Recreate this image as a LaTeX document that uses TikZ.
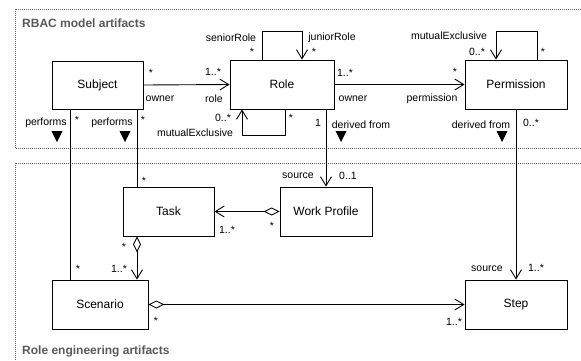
\documentclass[tikz,border=0pt]{standalone}
\usepackage{fontspec}
\setmainfont{Liberation Sans}
\usetikzlibrary{arrows.meta,calc}
\begin{document}
\begin{tikzpicture}[x=1pt,y=-1pt,
  box/.style={draw,line width=0.9pt,inner sep=0pt,font=\fontsize{12}{14}\selectfont},
  lbl/.style={inner sep=0pt,font=\fontsize{10.5}{12}\selectfont},
  title/.style={inner sep=0pt,anchor=west,text=black!65,font=\fontsize{12}{14}\selectfont\bfseries},
  frame/.style={draw=black!60,line width=0.9pt,dash pattern=on 0.9pt off 1.1pt},
  conn/.style={line width=0.9pt},
  assoc/.style={conn,-{Straight Barb[length=9pt,width=11pt,line width=0.9pt]}},
  aggr/.style={conn,{Diamond[open,length=16pt,width=8pt,line width=0.9pt]}-{Straight Barb[length=9pt,width=11pt,line width=0.9pt]}},
  navtri/.style={fill=black}]
\useasboundingbox (0,0) rectangle (581,360);
\clip (0,0) rectangle (581,360);
% frames
\draw[frame] (15,9) rectangle (600,148);
\draw[frame] (15,163) rectangle (600,380);
\node[title] (t1) at (22,23) {RBAC model artifacts};
\node[title] (t2) at (22,351) {Role engineering artifacts};
% boxes
\node[box,minimum width=91pt,minimum height=48pt] (subj) at (97.5,85) {Subject};
\node[box,minimum width=104pt,minimum height=49pt] (role) at (282,84.5) {Role};
\node[box,minimum width=102pt,minimum height=49pt] (perm) at (516,84.5) {Permission};
\node[box,minimum width=91pt,minimum height=49pt] (task) at (168.5,211.5) {Task};
\node[box,minimum width=92pt,minimum height=49pt] (wp) at (326,211.5) {Work Profile};
\node[box,minimum width=96pt,minimum height=49pt] (scen) at (100,304.5) {Scenario};
\node[box,minimum width=102pt,minimum height=49pt] (step) at (516,304.5) {Step};
% connectors
\draw[assoc] (subj.east) -- (role.west);
\draw[assoc] (role.east) -- (perm.west);
\draw[assoc] ($(role.north)+(-20,0)$) -- ++(0,-28) -| ($(role.north)+(20,0)$);
\draw[assoc] ($(role.south)+(3,0)$) -- ++(0,26) -| ($(role.south)+(-40,0)$);
\draw[assoc] ($(perm.north)+(21,0)$) -- ++(0,-28) -| ($(perm.north)+(-20,0)$);
\draw[assoc] (role.south -| wp.north) -- (wp.north);
\draw[assoc] (perm.south) -- (step.north);
\draw[conn] (subj.south -| 70,0) -- (scen.north -| 70,0);
\draw[conn] (subj.south -| 137,0) -- (task.north -| 137,0);
\draw[aggr] (wp.west) -- (task.east);
\draw[aggr] (task.south -| 137,0) -- (scen.north -| 137,0);
\draw[aggr] (scen.east) -- (step.west);
% navigation triangles
\fill[navtri] (51.5,131) -- (62.5,131) -- (57,142) -- cycle;
\fill[navtri] (119.5,131) -- (130.5,131) -- (125,142) -- cycle;
\fill[navtri] (335.5,131) -- (346.5,131) -- (341,142) -- cycle;
\fill[navtri] (496.5,131) -- (507.5,131) -- (502,142) -- cycle;
% labels
\node[lbl] (l1) at (151,73) {*};
\node[lbl] (l2) at (160,99) {owner};
\node[lbl] (l3) at (213,72) {1..*};
\node[lbl] (l4) at (214,99) {role};
\node[lbl] (l5) at (231,38) {seniorRole};
\node[lbl] (l6) at (252,52) {*};
\node[lbl] (l7) at (332,38) {juniorRole};
\node[lbl] (l8) at (314,52) {*};
\node[lbl] (l9) at (345,73) {1..*};
\node[lbl] (l10) at (353,99) {owner};
\node[lbl] (l11) at (455,72) {*};
\node[lbl] (l12) at (432,99) {permission};
\node[lbl] (l13) at (449,36) {mutualExclusive};
\node[lbl] (l14) at (477,52) {0..*};
\node[lbl] (l15) at (543,52) {*};
\node[lbl] (l16) at (46,123) {performs};
\node[lbl] (l17) at (77,120) {*};
\node[lbl] (l18) at (112,123) {performs};
\node[lbl] (l19) at (143,120) {*};
\node[lbl] (l20) at (223,118) {0..*};
\node[lbl] (l21) at (195,133) {mutualExclusive};
\node[lbl] (l22) at (291,118) {*};
\node[lbl] (l23) at (318,123) {1};
\node[lbl] (l24) at (361,125) {derived from};
\node[lbl] (l25) at (481,125) {derived from};
\node[lbl] (l26) at (531,123) {0..*};
\node[lbl] (l27) at (298,176) {source};
\node[lbl] (l28) at (348,176) {0..1};
\node[lbl] (l29) at (144,181) {*};
\node[lbl] (l30) at (227,230) {1..*};
\node[lbl] (l31) at (272,226) {*};
\node[lbl] (l32) at (124,247) {*};
\node[lbl] (l33) at (78,269) {*};
\node[lbl] (l34) at (119,269) {1..*};
\node[lbl] (l35) at (156,321) {*};
\node[lbl] (l36) at (487,269) {source};
\node[lbl] (l37) at (536,268) {1..*};
\node[lbl] (l38) at (454,322) {1..*};
\end{tikzpicture}
\end{document}
